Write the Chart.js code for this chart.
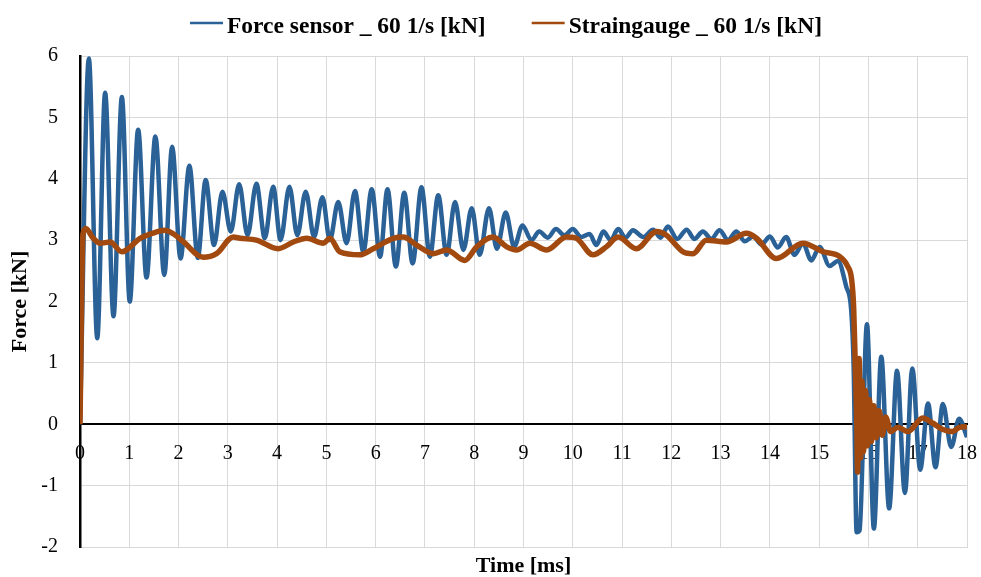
<!DOCTYPE html>
<html>
<head>
<meta charset="utf-8">
<script src="https://cdn.jsdelivr.net/npm/chart.js@4.4.1/dist/chart.umd.min.js"></script>
<style>
  html, body { margin: 0; padding: 0; background: #ffffff; }
  #wrap { width: 981px; height: 577px; }
</style>
</head>
<body>
<div id="wrap"><canvas id="chart" width="981" height="577"></canvas></div>
<script>
// Impact test at 60 1/s: load-cell force vs. strain-gauge force, time in ms.
const seriesNames = ['Force sensor _ 60 1/s [kN]', 'Straingauge _ 60 1/s [kN]'];
const axisTitles = { x: 'Time [ms]', y: 'Force [kN]' };
const timeTicks = [0, 1, 2, 3, 4, 5, 6, 7, 8, 9, 10, 11, 12, 13, 14, 15, 16, 17, 18];
const forceTicks = [-2, -1, 0, 1, 2, 3, 4, 5, 6];

// Force sensor: turning points of the ringing signal (time in ms, force in kN)
const forceTime = [
  0.00, 0.18, 0.35, 0.51, 0.68, 0.85, 1.01, 1.18, 1.35, 1.53, 1.71, 1.87, 2.04,
  2.22, 2.39, 2.55, 2.72, 2.89, 3.06, 3.23, 3.40, 3.58, 3.75, 3.92, 4.07, 4.25,
  4.41, 4.58, 4.75, 4.92, 5.07, 5.24, 5.41, 5.58, 5.75, 5.92, 6.09, 6.24, 6.41,
  6.58, 6.75, 6.93, 7.10, 7.27, 7.44, 7.61, 7.78, 7.95, 8.11, 8.30, 8.46, 8.64,
  8.81, 8.98, 9.16, 9.32, 9.49, 9.66, 9.83, 10.00, 10.17, 10.34, 10.48, 10.62,
  10.77, 10.92, 11.07, 11.22, 11.43, 11.63, 11.78, 11.93, 12.12, 12.31, 12.47,
  12.64, 12.81, 12.98, 13.15, 13.32, 13.49, 13.66, 13.83, 14.00, 14.16, 14.33,
  14.50, 14.67, 14.84, 15.01, 15.21, 15.38, 15.55, 15.65, 15.70, 15.76, 15.82,
  15.97, 16.11, 16.26, 16.42, 16.58, 16.74, 16.89, 17.05, 17.21, 17.36, 17.51,
  17.68, 17.84, 18.00
];
const forceKN = [
  0.00, 5.96, 1.40, 5.40, 1.76, 5.33, 2.00, 4.80, 2.39, 4.69, 2.43, 4.52, 2.70,
  4.21, 2.71, 3.98, 2.92, 3.79, 3.14, 3.91, 3.08, 3.92, 3.03, 3.87, 3.00, 3.87,
  3.08, 3.79, 3.05, 3.70, 3.00, 3.62, 2.95, 3.80, 2.81, 3.83, 2.73, 3.83, 2.57,
  3.77, 2.62, 3.86, 2.73, 3.73, 2.76, 3.62, 2.84, 3.52, 2.76, 3.52, 2.86, 3.45,
  2.89, 3.24, 3.00, 3.14, 3.04, 3.18, 3.08, 3.18, 3.05, 3.10, 2.92, 3.14,
  3.00, 3.18, 3.04, 3.16, 3.05, 3.17, 3.04, 3.22, 3.02, 3.17, 3.02,
  3.14, 3.02, 3.16, 3.00, 3.14, 2.98, 3.06, 2.93, 3.06, 2.88, 3.05,
  2.76, 2.95, 2.67, 2.89, 2.58, 2.66, 2.24, 1.86, 0.93, -1.76, -1.73,
  1.63, -1.70, 1.10, -1.37, 0.87, -1.12, 0.91, -0.74, 0.34, -0.70, 0.33,
  -0.37, 0.09, -0.21
];

// Strain gauge: slower wave, then ringing after the drop near 15.7 ms
const strainTime = [
  0.00, 0.06, 0.12, 0.25, 0.41, 0.61, 0.85, 1.22, 1.50, 1.72, 1.90, 2.10, 2.50,
  2.77, 3.11, 3.25, 3.58, 4.02, 4.33, 4.60, 4.94, 5.07, 5.27, 5.68, 5.95, 6.36,
  6.56, 6.83, 7.17, 7.44, 7.81, 8.05, 8.38, 8.66, 8.86, 9.13, 9.47, 9.87, 10.07,
  10.41, 10.68, 10.92, 11.29, 11.70, 11.90, 12.24, 12.44, 12.71, 13.12, 13.52,
  13.73, 14.13, 14.67, 15.08, 15.42, 15.58, 15.66, 15.70, 15.73, 15.76, 15.78,
  15.81, 15.84, 15.87, 15.90, 15.94, 15.98, 16.02, 16.06, 16.11, 16.16, 16.22,
  16.28, 16.35, 16.45, 16.60, 16.80, 17.10, 17.30, 17.50, 17.70, 17.85, 18.00
];
const strainKN = [
  0.00, 3.10, 3.19, 3.05, 2.95, 2.97, 2.81, 3.03, 3.12, 3.16, 3.10, 2.97, 2.72,
  2.78, 3.05, 3.03, 3.00, 2.86, 2.97, 3.03, 2.95, 3.03, 2.81, 2.76, 2.86, 3.03,
  3.05, 2.92, 2.78, 2.84, 2.67, 2.89, 3.05, 2.89, 2.84, 2.95, 2.84, 3.05, 3.03,
  2.76, 2.89, 3.05, 2.86, 3.14, 3.08, 2.81, 2.78, 3.00, 2.97, 3.11,
  3.03, 2.70, 2.95, 2.81, 2.73, 2.57, 2.35, 1.90, 1.04, 0.17, -0.78,
  1.07, -0.55, 0.70, -0.45, 0.55, -0.35, 0.40, -0.28, 0.30, -0.22, 0.22,
  -0.18, 0.12, -0.12, -0.05, -0.12, 0.10, 0.02, -0.08, -0.12, -0.05, -0.04
];

const toPoints = (xs, ys) => xs.map((x, i) => ({ x: x, y: ys[i] }));

const BLUE = '#2a6196';
const ORANGE = '#a1490f';
const GRID = '#d9d9d9';
const SERIF = '"Liberation Serif", "Times New Roman", serif';

// Legend drawn as short line samples followed by bold labels
const lineLegend = {
  id: 'lineLegend',
  afterDraw(chart) {
    const ctx = chart.ctx;
    ctx.save();
    ctx.font = 'bold 23.5px ' + SERIF;
    ctx.textBaseline = 'alphabetic';
    ctx.textAlign = 'left';
    let x = 190;
    chart.data.datasets.forEach((ds) => {
      ctx.strokeStyle = ds.borderColor;
      ctx.lineWidth = 2.5;
      ctx.beginPath();
      ctx.moveTo(x, 23);
      ctx.lineTo(x + 33, 23);
      ctx.stroke();
      ctx.fillStyle = '#000000';
      ctx.fillText(ds.label, x + 37, 33);
      x += 37 + ctx.measureText(ds.label).width + 46;
    });
    ctx.restore();
  }
};

new Chart(document.getElementById('chart').getContext('2d'), {
  type: 'line',
  data: {
    datasets: [
      {
        label: seriesNames[0],
        data: toPoints(forceTime, forceKN),
        borderColor: BLUE,
        backgroundColor: BLUE,
        borderWidth: 4.5,
        pointRadius: 0,
        cubicInterpolationMode: 'monotone',
        order: 2
      },
      {
        label: seriesNames[1],
        data: toPoints(strainTime, strainKN),
        borderColor: ORANGE,
        backgroundColor: ORANGE,
        borderWidth: 5.5,
        pointRadius: 0,
        cubicInterpolationMode: 'monotone',
        order: 1
      }
    ]
  },
  options: {
    responsive: false,
    animation: false,
    devicePixelRatio: 1,
    layout: { padding: { left: 0, right: 14, top: 56, bottom: 0 } },
    plugins: {
      legend: { display: false },
      tooltip: { enabled: false }
    },
    scales: {
      x: {
        type: 'linear',
        position: 'bottom',
        min: 0,
        max: 18,
        afterBuildTicks: (s) => { s.ticks = timeTicks.map(v => ({ value: v })); },
        ticks: { display: false, padding: 0 },
        grid: { color: GRID, lineWidth: 1, drawTicks: false },
        border: { display: true, color: GRID, width: 1 },
        title: {
          display: true,
          text: axisTitles.x,
          color: '#000000',
          font: { family: SERIF, size: 22, weight: 'bold', lineHeight: 1 },
          padding: { top: 0, bottom: 0 }
        },
        afterFit: (s) => { s.height = 30; }
      },
      xZero: {
        type: 'linear',
        position: { y: 0 },
        min: 0,
        max: 18,
        afterBuildTicks: (s) => { s.ticks = timeTicks.map(v => ({ value: v })); },
        ticks: {
          color: '#000000',
          font: { family: SERIF, size: 20 },
          padding: 0,
          maxRotation: 0,
          autoSkip: false
        },
        grid: {
          display: true,
          drawOnChartArea: false,
          color: 'transparent',
          tickColor: 'transparent',
          drawTicks: true,
          tickLength: 17
        },
        border: { display: true, color: '#000000', width: 2 },
        afterFit: (s) => { s.height = 0; }
      },
      y: {
        type: 'linear',
        position: 'left',
        min: -2,
        max: 6,
        afterBuildTicks: (s) => { s.ticks = forceTicks.map(v => ({ value: v })); },
        ticks: {
          color: '#000000',
          font: { family: SERIF, size: 20 },
          padding: 0
        },
        grid: {
          color: GRID,
          lineWidth: 1,
          drawTicks: true,
          tickLength: 22,
          tickColor: 'transparent'
        },
        border: { display: true, color: '#000000', width: 2.5 },
        title: {
          display: true,
          text: axisTitles.y,
          color: '#000000',
          font: { family: SERIF, size: 22, weight: 'bold' },
          padding: { top: 7, bottom: 0 }
        },
        afterFit: (s) => { s.width = 80; }
      }
    }
  },
  plugins: [lineLegend]
});
</script>
</body>
</html>
